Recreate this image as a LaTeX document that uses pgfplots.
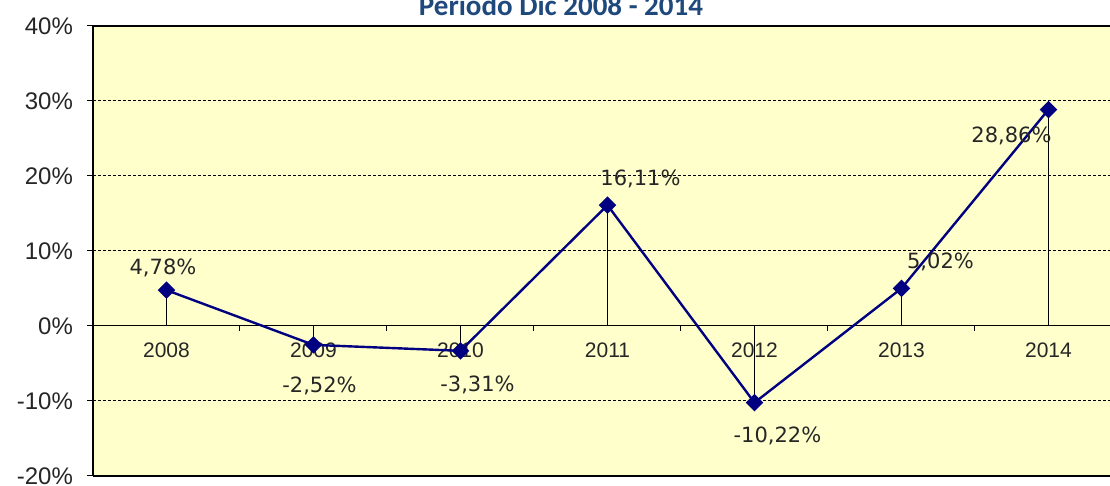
\documentclass[border=0pt]{standalone}
\usepackage{pgfplots}
\pgfplotsset{compat=1.18}
\usepackage{pgfplotstable}
\usepackage{fontspec}
\setmainfont{Liberation Sans}
\newfontfamily\verdfont{DejaVu Sans}
\newfontfamily\calfont{Carlito}
\definecolor{bgyellow}{HTML}{FFFFCC}
\definecolor{navyline}{HTML}{000080}
\definecolor{titleblue}{HTML}{1F497D}
\pgfplotstableread{
x y lab dx dy
0 4.78 4,78 -1.75 8
1 -2.52 -2,52 3 -24
2 -3.31 -3,31 8.5 -20.5
3 16.11 16,11 16.5 10
4 -10.22 -10,22 11.5 -20
5 5.02 5,02 19.5 10
6 28.86 28,86 -18.5 -16.5
}\datatable
\begin{document}
\begin{tikzpicture}
\useasboundingbox (-46.5pt,-5pt) rectangle (508.5pt,238pt);
\begin{axis}[
  at={(0,0)}, anchor=south west,
  scale only axis, width=514.5pt, height=225pt,
  xmin=-0.5, xmax=6.5, ymin=-20, ymax=40,
  axis x line*=middle, axis y line*=left,
  x axis line style={line width=0.5pt, black},
  y axis line style={line width=1pt, black},
  hide obscured x ticks=false, hide obscured y ticks=false,
  axis background/.style={fill=bgyellow},
  xtick={0,...,6},
  xticklabels={2008,2009,2010,2011,2012,2013,2014},
  minor xtick={0.5,1.5,2.5,3.5,4.5,5.5},
  major x tick style={draw=none},
  minor x tick style={black, line width=0.5pt},
  y tick style={black, line width=0.5pt},
  tick align=outside,
  major tick length=3pt, minor tick length=2.5pt,
  ytick={-20,-10,...,40},
  yticklabels={-20\%,-10\%,0\%,10\%,20\%,30\%,40\%},
  ymajorgrids=true,
  major grid style={black, line width=0.5pt, dash pattern=on 1.5pt off 1pt},
  yticklabel style={font=\fontsize{12}{14}\selectfont, text=black!85, anchor=east, xshift=-3.5pt},
  xticklabel style={font=\fontsize{10.5}{12}\selectfont, text=black!85, anchor=base, yshift=-13pt},
  clip=false,
]
\addplot[ycomb, black, line width=0.5pt, no markers] table[x=x,y=y]{\datatable};
\addplot[navyline, line width=1.2pt, mark=square*, mark size=2.5pt,
  mark options={rotate=45, fill=navyline, solid},
  point meta=explicit symbolic,
  visualization depends on={\thisrow{dx} \as \dx},
  visualization depends on={\thisrow{dy} \as \dy},
  nodes near coords={\pgfplotspointmeta\%},
  every node near coord/.append style={anchor=base, xshift={\dx*1pt}, yshift={\dy*1pt}, font=\verdfont\fontsize{10.5}{12}\selectfont, text=black!85, inner sep=0pt},
] table[x=x,y=y,meta=lab]{\datatable};
\draw[black, line width=1.2pt] (rel axis cs:0,0) -- (rel axis cs:1,0);
\draw[black, line width=1pt] (rel axis cs:0,1) -- (rel axis cs:1,1);
\node[anchor=base, yshift=5pt, font=\calfont\bfseries\fontsize{14.5}{16}\selectfont, text=titleblue] at (rel axis cs:0.4548,1) {Periodo Dic 2008 - 2014};
\end{axis}
\end{tikzpicture}
\end{document}
